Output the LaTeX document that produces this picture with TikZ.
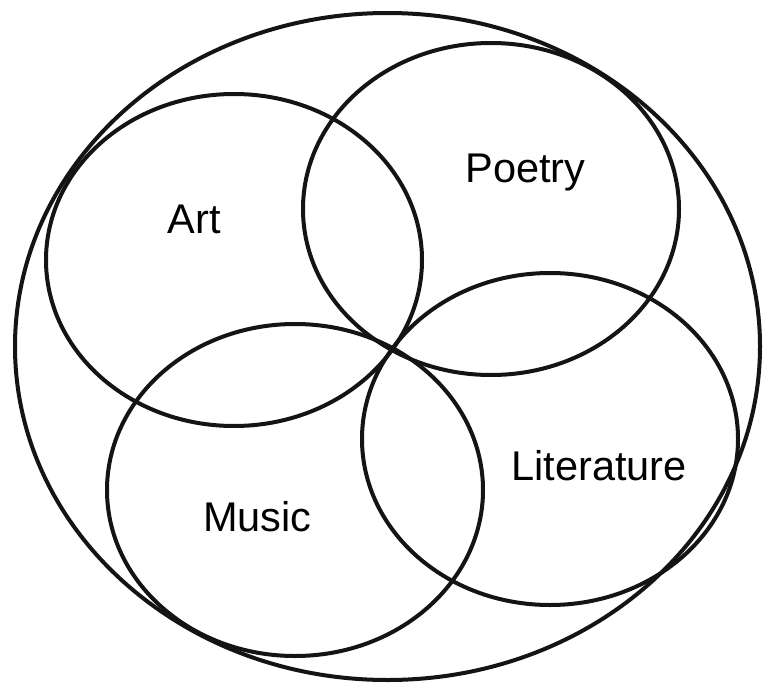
\documentclass[tikz,border=0pt]{standalone}
\usepackage{fontspec}
\setmainfont{Liberation Sans}
\begin{document}
\begin{tikzpicture}[x=1pt,y=-1pt,
  ring/.style={draw=black!92,line width=4pt},
  lbl/.style={anchor=base,inner sep=0pt,font=\fontsize{41.5}{48}\selectfont}]
\useasboundingbox (0,0) rectangle (763,688);
\fill[white] (0,0) rectangle (763,688);
% outer ellipse
\draw[ring] (387.5,346.5) ellipse [x radius=372.5pt, y radius=333.5pt];
% four circles
\draw[ring] (234,260) ellipse [x radius=188pt, y radius=166pt];
\draw[ring] (491,209) ellipse [x radius=188pt, y radius=166pt];
\draw[ring] (295,490) ellipse [x radius=188pt, y radius=166pt];
\draw[ring] (550,439) ellipse [x radius=188pt, y radius=166pt];
% labels
\node[lbl] (art) at (194.5,233) {Art};
\node[lbl] (poetry) at (525.5,182) {Poetry};
\node[lbl] (music) at (257.5,531) {Music};
\node[lbl] (literature) at (599,480) {Literature};
\end{tikzpicture}
\end{document}
